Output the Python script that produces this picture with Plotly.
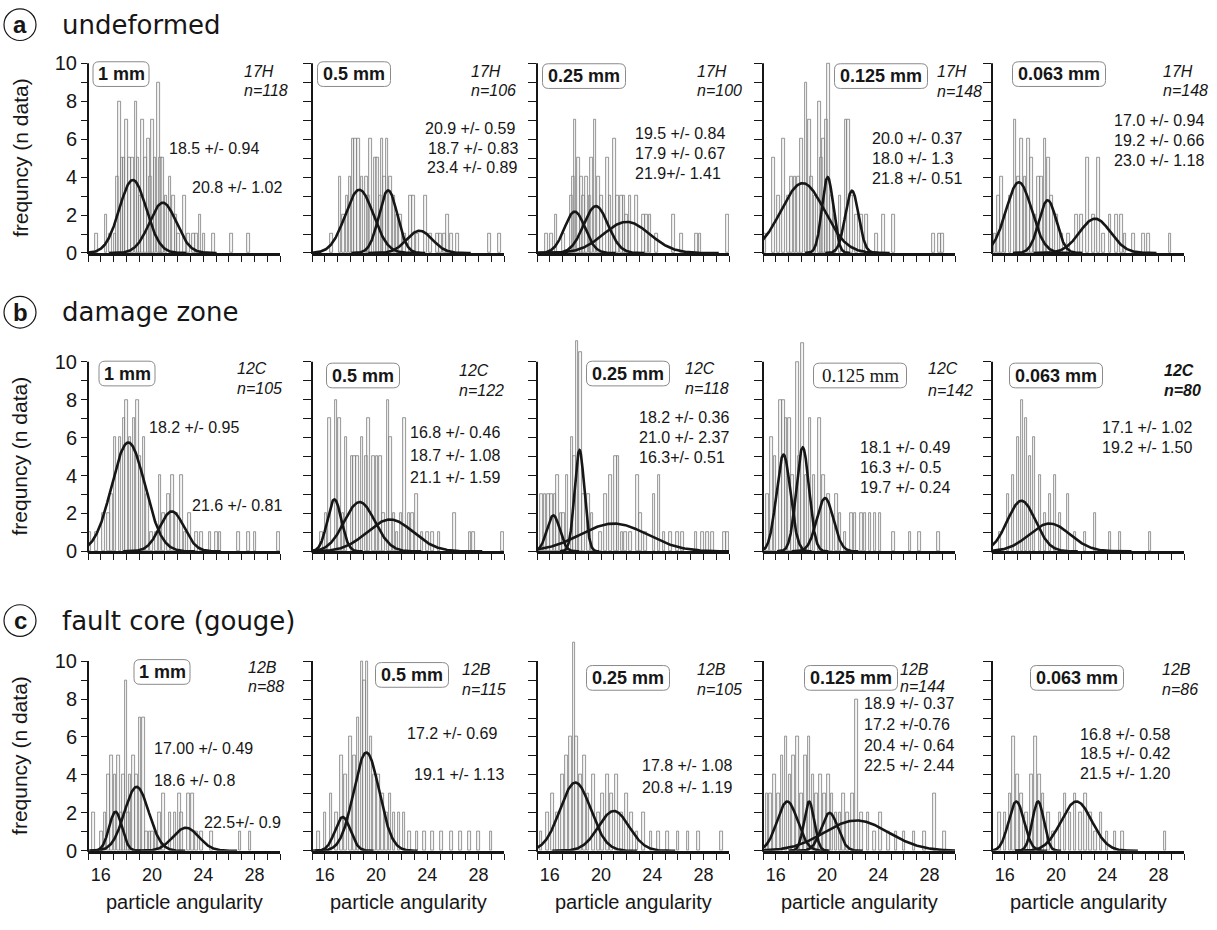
import numpy as np
import plotly.graph_objects as go

W, H = 1217, 930

# ------------------------------------------------------------------ data
A1_X = [15.68, 16.41, 16.77, 17.11, 17.29, 17.45, 17.66, 17.81, 18.02, 18.23, 18.49, 18.75, 18.91, 19.06, 19.27, 19.48, 19.71, 19.90, 20.05, 20.23, 20.49, 20.68, 20.83, 21.09, 21.41, 21.67, 21.88, 22.06, 22.53, 22.84, 23.23, 23.49, 23.75, 24.06, 24.79, 26.22, 27.53]
A1_H = [1, 2, 1, 1, 4, 8, 5, 5, 7, 5, 5, 8, 5, 3, 7, 5, 6, 4, 7, 5, 9, 5, 5, 3, 4, 3, 2, 1, 3, 1, 1, 1, 2, 1, 1, 1, 1]
A2_X = [16.54, 17.20, 17.46, 17.72, 17.98, 18.19, 18.38, 18.64, 18.90, 19.24, 19.42, 19.55, 19.95, 20.13, 20.34, 20.47, 20.65, 20.86, 21.13, 21.39, 21.65, 21.91, 22.23, 22.70, 22.91, 23.22, 23.87, 24.27, 24.79, 25.05, 25.37, 25.58, 25.89, 26.36, 28.85, 29.63]
A2_H = [1, 4, 2, 3, 4, 6, 6, 6, 4, 4, 3, 6, 5, 5, 3, 6, 4, 6, 4, 3, 2, 2, 1, 3, 3, 1, 3, 1, 1, 1, 1, 2, 1, 1, 1, 1]
A3_X = [15.76, 16.15, 16.48, 17.06, 17.71, 17.84, 17.97, 18.23, 18.49, 18.62, 18.88, 19.14, 19.27, 19.53, 19.79, 20.05, 20.49, 20.70, 21.04, 21.28, 21.61, 21.80, 22.01, 22.27, 22.79, 23.31, 23.57, 23.83, 24.35, 25.65, 26.30, 27.47, 27.73, 29.87]
A3_H = [1, 1, 2, 1, 3, 4, 7, 5, 4, 3, 4, 3, 5, 7, 4, 3, 5, 3, 6, 3, 3, 3, 2, 3, 3, 2, 2, 2, 1, 2, 1, 1, 1, 2]
A4_X = [15.16, 15.81, 16.20, 16.59, 16.98, 17.24, 17.50, 17.76, 18.02, 18.36, 18.62, 18.80, 19.06, 19.40, 19.58, 19.71, 19.97, 20.10, 20.36, 20.63, 21.02, 21.48, 21.67, 21.93, 22.32, 22.71, 23.10, 23.88, 24.40, 25.18, 28.31, 28.78, 29.04]
A4_H = [1, 5, 3, 6, 3, 4, 4, 4, 6, 9, 7, 4, 3, 8, 5, 6, 7, 10, 3, 2, 3, 7, 7, 3, 2, 2, 2, 1, 2, 2, 1, 1, 1]
A5_X = [15.23, 15.49, 15.76, 16.02, 16.41, 16.80, 17.06, 17.32, 17.58, 17.84, 18.10, 18.36, 18.62, 18.88, 19.14, 19.40, 19.66, 20.05, 20.44, 20.96, 21.61, 22.01, 22.45, 22.92, 23.31, 23.70, 24.22, 24.74, 25.13, 25.39, 26.04, 26.82, 27.21, 28.91]
A5_H = [1, 3, 4, 2, 3, 7, 4, 6, 4, 6, 5, 2, 4, 4, 6, 5, 3, 2, 1, 1, 2, 2, 5, 2, 5, 1, 2, 2, 2, 1, 1, 1, 1, 1]

B1_X = [15.16, 15.68, 16.20, 16.59, 16.85, 17.11, 17.50, 17.81, 18.02, 18.28, 18.59, 18.85, 19.06, 19.38, 19.64, 19.97, 20.36, 20.63, 20.89, 21.28, 21.59, 21.93, 22.32, 22.58, 22.92, 23.49, 23.88, 24.53, 25.05, 25.31, 26.74, 27.53, 28.05, 29.87]
B1_H = [1, 1, 2, 2, 3, 6, 6, 7, 8, 6, 7, 8, 5, 6, 3, 1, 1, 4, 2, 3, 4, 2, 4, 1, 2, 1, 1, 1, 1, 1, 1, 1, 1, 1]
B2_X = [15.76, 16.10, 16.36, 16.88, 17.15, 17.41, 17.67, 18.12, 18.30, 18.56, 18.90, 19.24, 19.42, 19.82, 20.08, 20.34, 20.60, 20.92, 21.13, 21.39, 21.65, 21.96, 22.23, 22.57, 22.83, 23.17, 23.61, 24.01, 24.40, 24.92, 26.15, 27.36, 27.62, 29.90]
B2_H = [1, 2, 7, 8, 7, 2, 6, 5, 5, 5, 6, 5, 7, 5, 5, 5, 2, 8, 6, 2, 1, 2, 7, 2, 2, 3, 1, 1, 1, 1, 2, 1, 1, 1]
B3_X = [15.37, 15.63, 15.89, 16.15, 16.41, 16.60, 16.88, 17.07, 17.33, 17.72, 17.93, 18.12, 18.38, 18.64, 19.03, 19.29, 19.95, 20.34, 20.73, 21.13, 21.34, 21.65, 21.91, 22.30, 22.83, 23.09, 23.48, 24.14, 24.53, 24.92, 25.45, 25.97, 26.36, 27.41, 27.93, 28.32, 28.72, 29.63, 29.90]
B3_H = [3, 3, 3, 3, 3, 4, 2, 2, 4, 6, 5, 11.1, 10.5, 3, 3, 2, 1, 3, 4, 5, 5, 1, 1, 1, 4, 2, 1, 3, 4, 1, 1, 1, 1, 1, 1, 1, 1, 1, 1]
B4_X = [15.34, 15.68, 15.94, 16.38, 16.59, 16.80, 17.06, 17.32, 17.68, 17.84, 18.10, 18.36, 18.67, 18.98, 19.40, 19.71, 20.10, 20.36, 20.76, 21.02, 21.41, 21.93, 22.19, 22.71, 22.97, 23.36, 23.75, 24.14, 25.18, 26.48, 27.21, 28.70]
B4_H = [3, 6, 5, 8, 8, 7, 7, 4, 10, 5, 11, 4, 7, 4, 7, 4, 3, 2, 3, 2, 1, 2, 2, 2, 2, 2, 2, 2, 1, 1, 1, 1]
B5_X = [15.63, 16.25, 16.64, 17.03, 17.34, 17.66, 17.97, 18.28, 18.75, 19.14, 19.53, 19.92, 20.31, 20.94, 21.48, 22.27, 23.05, 24.22, 25.00, 27.34]
B5_H = [1, 3, 4, 6, 8, 7, 5, 6, 4, 2, 3, 4, 2, 3, 1, 1, 2, 1, 1, 1]

C1_X = [15.42, 16.07, 16.33, 16.59, 16.85, 17.11, 17.37, 17.63, 17.76, 17.97, 18.15, 18.28, 18.54, 18.80, 19.06, 19.32, 19.58, 19.84, 20.05, 20.31, 20.57, 20.89, 21.41, 21.80, 22.14, 22.32, 22.84, 23.18, 23.49, 23.88, 24.66, 26.88, 27.66]
C1_H = [2, 1, 2, 4, 5, 4, 5, 2, 4, 9, 2, 4, 5, 4, 7, 7, 1, 1, 1, 1, 2, 3, 2, 2, 3, 2, 3, 3, 1, 1, 1, 1, 1]
C2_X = [15.5, 16.0, 16.5, 16.9, 17.3, 17.6, 18.0, 18.3, 18.6, 18.9, 19.1, 19.3, 19.6, 19.9, 20.2, 20.5, 20.8, 21.1, 21.4, 21.8, 22.2, 22.6, 23.2, 23.8, 24.4, 25.1, 25.9, 26.6, 27.3, 28.0, 29.0]
C2_H = [1, 2, 3, 2, 5, 4, 6, 5, 7, 10, 9, 10, 6, 4, 4, 3, 2, 3, 2, 2, 2, 1, 1, 1, 1, 1, 1, 1, 1, 1, 1]
C3_X = [15.3, 15.8, 16.2, 16.6, 17.0, 17.3, 17.6, 17.9, 18.1, 18.4, 18.7, 19.0, 19.4, 19.8, 20.1, 20.5, 20.8, 21.2, 21.6, 22.0, 22.4, 22.8, 23.3, 23.9, 24.5, 25.2, 26.0, 26.8, 27.6, 29.4]
C3_H = [1, 2, 3, 2, 4, 5, 6, 11, 6, 4, 5, 3, 4, 2, 3, 4, 3, 4, 2, 3, 2, 1, 2, 1, 1, 1, 1, 1, 1, 1]
C4_X = [15.3, 15.6, 15.9, 16.2, 16.5, 16.8, 17.1, 17.4, 17.7, 18.0, 18.3, 18.6, 18.9, 19.2, 19.5, 19.8, 20.1, 20.4, 20.7, 21.0, 21.3, 21.6, 22.0, 22.3, 22.7, 23.2, 23.7, 24.2, 24.8, 25.4, 26.0, 26.8, 27.6, 28.4, 29.2]
C4_H = [3, 3, 4, 3, 5, 6, 4, 5, 6, 3, 5, 6, 4, 3, 4, 3, 4, 3, 2, 2, 3, 2, 3, 8, 2, 2, 1, 2, 1, 1, 1, 1, 1, 3, 1]
C5_X = [15.6, 16.0, 16.4, 16.7, 17.0, 17.3, 17.7, 18.1, 18.4, 18.7, 19.0, 19.4, 19.8, 20.3, 20.7, 21.1, 21.5, 21.9, 22.3, 22.7, 23.1, 23.5, 24.0, 24.6, 25.2, 28.5]
C5_H = [2, 2, 3, 6, 4, 3, 2, 4, 6, 4, 3, 2, 1, 2, 3, 2, 3, 2, 3, 2, 1, 2, 1, 1, 1, 1]

# gaussian fits: (mean, width, peak height)
A1_FITS = [(18.5, 1.05, 3.85), (20.85, 1.05, 2.65)]
A2_FITS = [(18.7, 1.1, 3.33), (20.95, 0.72, 3.3), (23.4, 1.0, 1.17)]
A3_FITS = [(17.95, 0.8, 2.18), (19.6, 0.95, 2.47), (22.0, 1.8, 1.64)]
A4_FITS = [(18.1, 1.7, 3.68), (20.05, 0.44, 4.0), (21.95, 0.52, 3.28)]
A5_FITS = [(17.1, 1.0, 3.73), (19.35, 0.68, 2.78), (23.05, 1.2, 1.81)]
B1_FITS = [(18.15, 1.3, 5.74), (21.55, 0.95, 2.11)]
B2_FITS = [(16.75, 0.55, 2.74), (18.72, 1.2, 2.6), (21.1, 1.8, 1.68)]
B3_FITS = [(16.28, 0.5, 1.9), (18.32, 0.38, 5.34), (21.0, 2.6, 1.47)]
B4_FITS = [(16.6, 0.55, 5.1), (18.1, 0.5, 5.48), (19.85, 0.65, 2.81)]
B5_FITS = [(17.3, 1.1, 2.67), (19.5, 1.6, 1.47)]
C1_FITS = [(17.15, 0.5, 2.06), (18.8, 0.95, 3.37), (22.65, 1.0, 1.22)]
C2_FITS = [(17.4, 0.6, 1.78), (19.25, 1.0, 5.18)]
C3_FITS = [(18.0, 1.2, 3.6), (21.0, 1.2, 2.1)]
C4_FITS = [(16.9, 0.8, 2.6), (18.6, 0.4, 2.6), (20.2, 0.65, 2.0), (22.3, 2.5, 1.6)]
C5_FITS = [(16.9, 0.6, 2.6), (18.6, 0.45, 2.6), (21.6, 1.2, 2.6)]

A1_TXT = ["18.5 +/- 0.94", "20.8 +/- 1.02"]
A2_TXT = ["20.9 +/- 0.59", "18.7 +/- 0.83", "23.4 +/- 0.89"]
A3_TXT = ["19.5 +/- 0.84", "17.9 +/- 0.67", "21.9+/- 1.41"]
A4_TXT = ["20.0 +/- 0.37", "18.0 +/- 1.3", "21.8 +/- 0.51"]
A5_TXT = ["17.0 +/- 0.94", "19.2 +/- 0.66", "23.0 +/- 1.18"]
B1_TXT = ["18.2 +/- 0.95", "21.6 +/- 0.81"]
B2_TXT = ["16.8 +/- 0.46", "18.7 +/- 1.08", "21.1 +/- 1.59"]
B3_TXT = ["18.2 +/- 0.36", "21.0 +/- 2.37", "16.3+/- 0.51"]
B4_TXT = ["18.1 +/- 0.49", "16.3 +/- 0.5", "19.7 +/- 0.24"]
B5_TXT = ["17.1 +/- 1.02", "19.2 +/- 1.50"]
C1_TXT = ["17.00 +/- 0.49", "18.6 +/- 0.8", "22.5+/- 0.9"]
C2_TXT = ["17.2 +/- 0.69", "19.1 +/- 1.13"]
C3_TXT = ["17.8 +/- 1.08", "20.8 +/- 1.19"]
C4_TXT = ["18.9 +/- 0.37", "17.2 +/-0.76", "20.4 +/- 0.64", "22.5 +/- 2.44"]
C5_TXT = ["16.8 +/- 0.58", "18.5 +/- 0.42", "21.5 +/- 1.20"]

SIZE_LABELS = ["1 mm", "0.5 mm", "0.25 mm", "0.125 mm", "0.063 mm"]
SAMPLES = ["17H", "12C", "12B"]
N_COUNTS = [[118, 106, 100, 148, 148], [105, 122, 118, 142, 80], [88, 115, 105, 144, 86]]
ROW_LETTERS = ["a", "b", "c"]
ROW_TITLES = ["undeformed", "damage zone", "fault core (gouge)"]
X_TICKS = list(range(15, 31))
X_LABELED = [16, 20, 24, 28]
Y_TICKS = list(range(0, 11))
Y_LABELED = [0, 2, 4, 6, 8, 10]
X_TITLE = "particle angularity"
Y_TITLE = "frequncy (n data)"

PANELS = [
    [(A1_X, A1_H, A1_FITS, A1_TXT), (A2_X, A2_H, A2_FITS, A2_TXT), (A3_X, A3_H, A3_FITS, A3_TXT), (A4_X, A4_H, A4_FITS, A4_TXT), (A5_X, A5_H, A5_FITS, A5_TXT)],
    [(B1_X, B1_H, B1_FITS, B1_TXT), (B2_X, B2_H, B2_FITS, B2_TXT), (B3_X, B3_H, B3_FITS, B3_TXT), (B4_X, B4_H, B4_FITS, B4_TXT), (B5_X, B5_H, B5_FITS, B5_TXT)],
    [(C1_X, C1_H, C1_FITS, C1_TXT), (C2_X, C2_H, C2_FITS, C2_TXT), (C3_X, C3_H, C3_FITS, C3_TXT), (C4_X, C4_H, C4_FITS, C4_TXT), (C5_X, C5_H, C5_FITS, C5_TXT)],
]

# ------------------------------------------------------------------ layout geometry (pixels)
COL_L = [88, 312, 537, 763, 992]
ROW_B = [256, 558, 861]
XPU = 12.8
YPU = 19.2
YMAX = 11.4
TITLE_Y = [25, 316, 628]

BOX_POS = [[(121, 75), (354, 75), (584, 77), (881, 77), (1059, 75)],
           [(127, 378), (363, 380), (628, 378), (860, 380), (1056, 380)],
           [(162, 680), (412, 683), (628, 686), (851, 686), (1077, 686)]]
BOX_W = [56, 73, 83, 93, 93]
BOX_H = 25
ID_POS = [[(242, 72, 92), (469, 72, 92), (695, 72, 92), (935, 72, 93), (1161, 72, 92)],
          [(235, 373, 393), (457, 375, 395), (683, 373, 393), (926, 373, 395), (1162, 375, 395)],
          [(246, 675, 695), (460, 678, 698), (695, 678, 698), (898, 678, 695), (1160, 678, 698)]]
TXT_POS = [[[(167, 150), (190, 190)],
            [(423, 130), (426, 150), (425, 170)],
            [(633, 135), (633, 155), (633, 176)],
            [(870, 140), (870, 160), (870, 181)],
            [(1112, 122), (1112, 142), (1112, 162)]],
           [[(147, 433), (190, 512)],
            [(408, 438), (408, 461), (408, 483)],
            [(637, 422), (637, 443), (637, 463)],
            [(858, 453), (858, 473), (858, 493)],
            [(1100, 433), (1100, 453)]],
           [[(152, 757), (152, 790), (202, 832)],
            [(405, 742), (412, 784)],
            [(640, 775), (640, 797)],
            [(862, 712), (862, 733), (862, 754), (862, 775)],
            [(1078, 743), (1078, 763), (1078, 783)]]]


def fx(px):
    return px / W


def fy(py):
    return 1 - py / H


def rounded_box(cx, cy, w, h, rad=6):
    x0, x1 = fx(cx - w / 2), fx(cx + w / 2)
    y0, y1 = fy(cy + h / 2), fy(cy - h / 2)
    rx, ry = rad / W, rad / H
    return (f"M {x0 + rx},{y0} L {x1 - rx},{y0} Q {x1},{y0} {x1},{y0 + ry} "
            f"L {x1},{y1 - ry} Q {x1},{y1} {x1 - rx},{y1} L {x0 + rx},{y1} "
            f"Q {x0},{y1} {x0},{y1 - ry} L {x0},{y0 + ry} Q {x0},{y0} {x0 + rx},{y0} Z")


SANS = "Liberation Sans, Arial, sans-serif"
INK = "#161616"

fig = go.Figure()
layout = dict(width=W, height=H, margin=dict(l=0, r=0, t=0, b=0),
              paper_bgcolor="white", plot_bgcolor="rgba(0,0,0,0)",
              showlegend=False, bargap=0, barmode="overlay",
              font=dict(family=SANS, color=INK))
annotations = []
shapes = []

for r in range(3):
    for c in range(5):
        k = r * 5 + c + 1
        xs = "x" if k == 1 else f"x{k}"
        ys = "y" if k == 1 else f"y{k}"
        xa = "xaxis" if k == 1 else f"xaxis{k}"
        ya = "yaxis" if k == 1 else f"yaxis{k}"
        bx, bh, fits, txts = PANELS[r][c]
        fig.add_trace(go.Bar(x=bx, y=bh, width=0.2, xaxis=xs, yaxis=ys,
                             marker=dict(color="rgba(225,225,225,0.35)",
                                         line=dict(color="#7d7d7d", width=0.8)),
                             hoverinfo="skip"))
        for (m, s, a) in fits:
            lo, hi = max(15, m - 4 * s), min(30, m + 4 * s)
            xx = np.linspace(lo, hi, 240)
            yy = a * np.exp(-0.5 * ((xx - m) / s) ** 2)
            fig.add_trace(go.Scatter(x=xx, y=yy, mode="lines", xaxis=xs, yaxis=ys,
                                     line=dict(color=INK, width=2.6), hoverinfo="skip"))
        L = COL_L[c]
        B = ROW_B[r]
        layout[xa] = dict(domain=[fx(L), fx(L + 15 * XPU)], range=[15, 30], anchor=ys,
                          showline=True, linecolor=INK, linewidth=2.5,
                          ticks="outside", ticklen=6, tickwidth=1.3, tickcolor=INK,
                          tickvals=X_TICKS,
                          ticktext=[str(v) if v in X_LABELED else "" for v in X_TICKS],
                          showticklabels=(r == 2), tickfont=dict(size=18, family=SANS),
                          showgrid=False, zeroline=False, fixedrange=True)
        layout[ya] = dict(domain=[fy(B), fy(B - YMAX * YPU)], range=[0, YMAX], anchor=xs,
                          showline=False, ticks="outside", ticklen=6 if c == 0 else 8,
                          tickwidth=1.3, tickcolor=INK, tickvals=Y_TICKS,
                          ticktext=[str(v) if v in Y_LABELED else "" for v in Y_TICKS],
                          showticklabels=(c == 0), tickfont=dict(size=20, family=SANS),
                          showgrid=False, zeroline=False, fixedrange=True)
        shapes.append(dict(type="line", xref="paper", yref="paper",
                           x0=fx(L), x1=fx(L), y0=fy(B + 1), y1=fy(B - 10 * YPU),
                           line=dict(color=INK, width=2)))
        bxp, byp = BOX_POS[r][c]
        serif = (r == 1 and c == 3)
        shapes.append(dict(type="path", xref="paper", yref="paper",
                           path=rounded_box(bxp, byp, BOX_W[c], BOX_H),
                           line=dict(color="#8a8a8a", width=1), fillcolor="white"))
        annotations.append(dict(xref="paper", yref="paper", x=fx(bxp), y=fy(byp),
                                text=SIZE_LABELS[c] if serif else f"<b>{SIZE_LABELS[c]}</b>",
                                showarrow=False, xanchor="center", yanchor="middle",
                                font=dict(size=19 if serif else 18,
                                          family="Liberation Serif, serif" if serif else SANS)))
        ix, iy1, iy2 = ID_POS[r][c]
        bold_id = (r == 1 and c == 4)
        id_txt = f"<i>{SAMPLES[r]}</i>"
        n_txt = f"<i>n={N_COUNTS[r][c]}</i>"
        if bold_id:
            id_txt, n_txt = f"<b>{id_txt}</b>", f"<b>{n_txt}</b>"
        annotations.append(dict(xref="paper", yref="paper", x=fx(ix), y=fy(iy1),
                                text=id_txt, showarrow=False,
                                xanchor="left", yanchor="middle", font=dict(size=16)))
        annotations.append(dict(xref="paper", yref="paper", x=fx(ix), y=fy(iy2),
                                text=n_txt, showarrow=False,
                                xanchor="left", yanchor="middle", font=dict(size=16)))
        for t, (tx, ty) in zip(txts, TXT_POS[r][c]):
            annotations.append(dict(xref="paper", yref="paper", x=fx(tx), y=fy(ty),
                                    text=t, showarrow=False, xanchor="left",
                                    yanchor="middle", font=dict(size=16)))
        if r == 2:
            annotations.append(dict(xref="paper", yref="paper", x=fx(L + 96), y=fy(913),
                                    text=X_TITLE, showarrow=False, xanchor="center",
                                    yanchor="middle", font=dict(size=20)))
    ty = TITLE_Y[r]
    shapes.append(dict(type="circle", xref="paper", yref="paper",
                       x0=fx(4), x1=fx(36), y0=fy(ty + 16), y1=fy(ty - 16),
                       line=dict(color=INK, width=1.2)))
    annotations.append(dict(xref="paper", yref="paper", x=fx(20), y=fy(ty),
                            text=f"<b>{ROW_LETTERS[r]}</b>", showarrow=False,
                            xanchor="center", yanchor="middle",
                            font=dict(size=24, family=SANS)))
    annotations.append(dict(xref="paper", yref="paper", x=fx(60), y=fy(ty),
                            text=ROW_TITLES[r], showarrow=False,
                            xanchor="left", yanchor="middle",
                            font=dict(size=26, family="DejaVu Sans, sans-serif")))
    annotations.append(dict(xref="paper", yref="paper", x=fx(20), y=fy(ROW_B[r] - 96),
                            text=Y_TITLE, showarrow=False, textangle=-90,
                            xanchor="center", yanchor="middle", font=dict(size=21)))

layout["annotations"] = annotations
layout["shapes"] = shapes
fig.update_layout(**layout)
fig.write_html("out.html", config={"displayModeBar": False},
               post_script="document.body.style.margin='0';")
